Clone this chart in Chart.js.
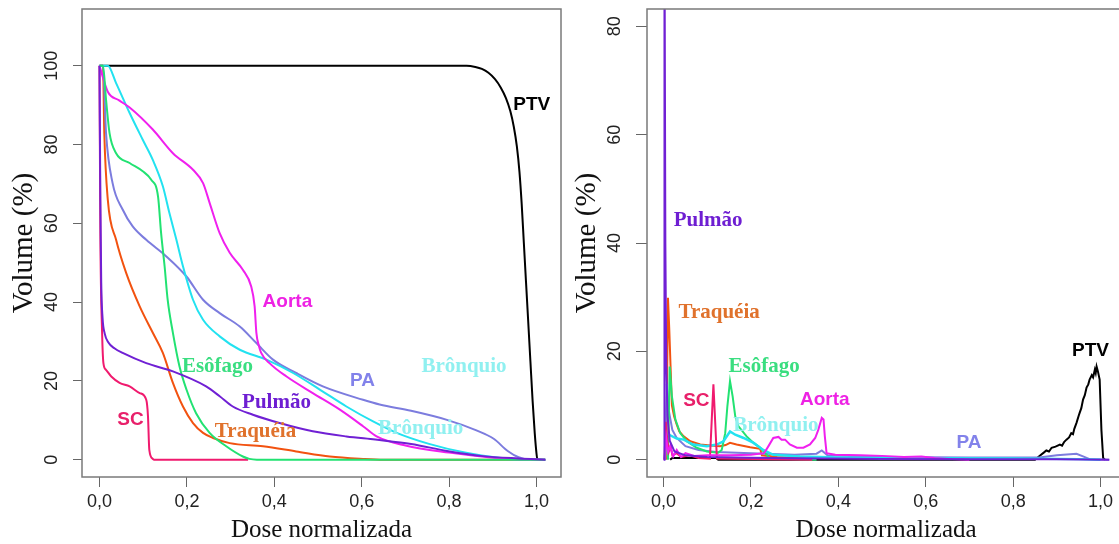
<!DOCTYPE html>
<html>
<head>
<meta charset="utf-8">
<script src="https://cdn.jsdelivr.net/npm/chart.js@4.4.1/dist/chart.umd.min.js"></script>
<style>
  html, body { margin: 0; padding: 0; background: #fff; width: 1119px; height: 544px; overflow: hidden; }
  .chart-wrap { position: absolute; top: 0; height: 544px; }
  #cumWrap { left: 0; width: 564px; }
  #diffWrap { left: 560px; width: 568px; }
</style>
</head>
<body>
<div class="chart-wrap" id="cumWrap"><canvas id="cumChart"></canvas></div>
<div class="chart-wrap" id="diffWrap"><canvas id="diffChart"></canvas></div>
<script>
// eixo x comum
const doseTicks = [0, 0.2, 0.4, 0.6, 0.8, 1.0];
const cumVolTicks = [0, 20, 40, 60, 80, 100];
const diffVolTicks = [0, 20, 40, 60, 80];

// HDV cumulativo: [dose normalizada, volume %]
const cumPTV = [[0, 100], [0.84, 100], [0.86, 99.7], [0.875, 99.2], [0.89, 98.2], [0.905, 96.6], [0.918, 94.5], [0.93, 91.8], [0.94, 88.5], [0.948, 84.5], [0.955, 79.5], [0.961, 73], [0.966, 65], [0.971, 55], [0.976, 45], [0.981, 35], [0.986, 25], [0.991, 15], [0.996, 6.6], [1.0, 1.5], [1.002, 0], [1.02, 0]];
const cumAorta = [[0, 100], [0.019, 93.4], [0.045, 91.2], [0.069, 89.4], [0.122, 83.8], [0.168, 77.8], [0.214, 73.6], [0.237, 70.2], [0.252, 65.2], [0.275, 57.5], [0.298, 52.5], [0.328, 48.2], [0.347, 44], [0.355, 38.9], [0.359, 32.2], [0.365, 28.8], [0.37, 27.1], [0.389, 24.5], [0.428, 21.1], [0.488, 16.9], [0.55, 12.7], [0.603, 8.5], [0.634, 5.9], [0.7, 3.6], [0.8, 1.8], [0.9, 0.5], [0.96, 0], [1.02, 0]];
const cumBronq = [[0, 100], [0.019, 100], [0.038, 95.6], [0.069, 88], [0.099, 81.2], [0.122, 76.1], [0.145, 69.4], [0.16, 62.6], [0.176, 55.8], [0.191, 49.1], [0.214, 40.6], [0.237, 35.5], [0.275, 31.3], [0.321, 27.9], [0.382, 25.4], [0.443, 22], [0.504, 17.8], [0.565, 13.5], [0.626, 9.7], [0.68, 6.8], [0.754, 4.0], [0.836, 1.8], [0.918, 0.4], [0.96, 0], [1.02, 0]];
const cumPA = [[0, 100], [0.008, 100], [0.015, 82.9], [0.03, 70.2], [0.053, 63.5], [0.076, 59.2], [0.107, 55.8], [0.153, 51.6], [0.199, 46.5], [0.237, 40.6], [0.275, 37.2], [0.321, 33.8], [0.359, 29.6], [0.397, 25.4], [0.45, 22], [0.511, 18.6], [0.603, 15.2], [0.641, 14], [0.713, 12.4], [0.795, 10.1], [0.861, 7.5], [0.902, 5.3], [0.934, 2.2], [0.959, 0.6], [0.984, 0], [1.02, 0]];
const cumPulm = [[0, 100], [0.002, 66], [0.004, 45], [0.007, 36], [0.012, 32], [0.02, 29.8], [0.035, 28.2], [0.053, 27.1], [0.107, 24.5], [0.168, 22.4], [0.244, 18.6], [0.275, 16.1], [0.305, 13.5], [0.351, 11.4], [0.412, 9.3], [0.488, 7.2], [0.565, 5.9], [0.631, 5.1], [0.713, 4.0], [0.795, 2.2], [0.877, 0.9], [0.959, 0.3], [1.02, 0]];
const cumEso = [[0, 100], [0.008, 100], [0.015, 91.4], [0.023, 82.9], [0.038, 77.8], [0.069, 75.3], [0.099, 73.2], [0.118, 71.1], [0.134, 66.8], [0.141, 57.5], [0.149, 49.1], [0.156, 40.6], [0.168, 32.2], [0.183, 23.7], [0.199, 17.8], [0.221, 11.8], [0.252, 6.8], [0.29, 3.4], [0.328, 0.8], [0.343, 0.2], [0.36, 0], [1.02, 0]];
const cumTraq = [[0, 100], [0.008, 100], [0.011, 82.9], [0.019, 66], [0.038, 55.8], [0.061, 47.4], [0.092, 38.9], [0.122, 32.2], [0.145, 27.1], [0.168, 19.5], [0.191, 13.5], [0.214, 9.3], [0.237, 6.8], [0.26, 5.5], [0.298, 4.2], [0.374, 3.4], [0.45, 2.1], [0.527, 0.8], [0.603, 0.2], [0.65, 0], [1.0, 0]];
const cumSC = [[0, 100], [0.002, 57.5], [0.006, 32.2], [0.009, 24.5], [0.015, 22.8], [0.027, 21.1], [0.046, 19.5], [0.069, 18.6], [0.092, 16.9], [0.107, 15.2], [0.111, 11], [0.114, 2.5], [0.122, 0.2], [0.125, 0], [0.34, 0]];

// HDV diferencial: [dose normalizada, volume %]
const diffPTV = [[0.015, 0], [0.02, 0.3], [0.12, 0.3], [0.125, 0], [0.85, 0], [0.861, 0.74], [0.87, 1.3], [0.876, 1.7], [0.882, 1.5], [0.888, 2.2], [0.897, 2.4], [0.907, 2.8], [0.912, 2.6], [0.917, 3.3], [0.922, 3.7], [0.928, 4.1], [0.933, 4.9], [0.937, 4.7], [0.94, 5.7], [0.945, 6.8], [0.95, 8.1], [0.952, 8.6], [0.956, 9.5], [0.96, 11.1], [0.964, 11.9], [0.968, 13.3], [0.972, 13.9], [0.975, 14.8], [0.98, 15.6], [0.983, 15.2], [0.987, 16.6], [0.989, 16.0], [0.991, 17.2], [0.994, 16.3], [0.998, 14.8], [1.002, 5.5], [1.006, 0.3], [1.01, 0]];
const diffAorta = [[0.002, 0], [0.006, 4], [0.01, 1.5], [0.015, 2.5], [0.022, 0.6], [0.03, 1.8], [0.04, 0.5], [0.05, 1.2], [0.07, 0.7], [0.1, 0.8], [0.15, 0.8], [0.2, 0.9], [0.23, 1.2], [0.24, 2.5], [0.251, 4.0], [0.263, 4.2], [0.27, 3.7], [0.278, 3.7], [0.289, 2.8], [0.305, 2.2], [0.32, 2.2], [0.335, 2.8], [0.347, 4.0], [0.354, 5.5], [0.362, 7.7], [0.366, 7.4], [0.369, 4.3], [0.373, 1.2], [0.393, 0.9], [0.45, 0.8], [0.5, 0.7], [0.55, 0.5], [0.59, 0.6], [0.62, 0.3], [0.66, 0.1], [0.7, 0]];
const diffBronq = [[0.003, 0], [0.006, 5], [0.015, 4.5], [0.03, 3.9], [0.046, 3.7], [0.068, 2.8], [0.099, 2.5], [0.122, 2.8], [0.137, 3.4], [0.152, 5.2], [0.164, 4.6], [0.183, 4.0], [0.206, 3.1], [0.228, 1.8], [0.251, 0.9], [0.312, 0.6], [0.4, 0.4], [0.6, 0.25], [0.8, 0.2], [0.95, 0.1], [1.0, 0]];
const diffPA = [[0.003, 0], [0.007, 14], [0.012, 9], [0.02, 5.5], [0.03, 4], [0.05, 2.5], [0.08, 1.8], [0.12, 1.4], [0.2, 1.2], [0.3, 0.9], [0.35, 1.1], [0.362, 1.7], [0.375, 0.8], [0.5, 0.5], [0.7, 0.4], [0.86, 0.4], [0.9, 0.8], [0.945, 1.1], [0.96, 0.6], [0.975, 0.1], [1.02, 0]];
const diffPulm = [[0, 0], [0.001, 0], [0.002, 100], [0.004, 40], [0.006, 18], [0.009, 8], [0.014, 3.5], [0.025, 1.5], [0.05, 0.8], [0.1, 0.5], [0.2, 0.35], [0.3, 0.25], [0.5, 0.12], [0.7, 0.1], [0.9, 0.08], [1.02, 0]];
const diffEso = [[0.01, 0], [0.014, 17.2], [0.019, 11.7], [0.027, 7.4], [0.038, 4.9], [0.053, 3.4], [0.076, 2.2], [0.099, 1.5], [0.125, 1.3], [0.133, 1.8], [0.141, 4.9], [0.146, 9.9], [0.152, 14.5], [0.158, 11.7], [0.164, 8], [0.171, 6.2], [0.19, 4.3], [0.206, 3.1], [0.221, 2.2], [0.232, 1.2], [0.245, 0.2], [0.35, 0]];
const diffTraq = [[0.006, 0], [0.01, 29.9], [0.013, 24], [0.016, 17], [0.019, 10], [0.024, 8], [0.03, 6.5], [0.036, 5.2], [0.046, 4.3], [0.061, 3.4], [0.084, 2.8], [0.107, 2.6], [0.129, 2.5], [0.142, 2.7], [0.152, 3.1], [0.167, 2.8], [0.198, 2.3], [0.221, 2.0], [0.225, 0.8], [0.26, 0.5], [0.33, 0.2], [0.34, 0]];
const diffSC = [[0.002, 0], [0.005, 7], [0.008, 4], [0.012, 1.5], [0.016, 2.5], [0.02, 0.8], [0.03, 1.2], [0.04, 0.5], [0.06, 0.8], [0.08, 0.3], [0.106, 0.2], [0.114, 13.9], [0.122, 0.2], [0.34, 0]];

// rótulos das estruturas (posição em coordenadas dos dados)
const cumLabels = [
  { text: 'PTV', x: 0.989, y: 90.1, color: '#000000', serif: false },
  { text: 'Aorta', x: 0.43, y: 40.1, color: '#ee22e4', serif: false },
  { text: 'PA', x: 0.602, y: 20.1, color: '#8282ea', serif: false },
  { text: 'Brônquio', x: 0.834, y: 23.6, color: '#90f0f0', serif: true },
  { text: 'Brônquio', x: 0.735, y: 7.9, color: '#90f0f0', serif: true },
  { text: 'Esôfago', x: 0.27, y: 23.6, color: '#3ade80', serif: true },
  { text: 'Pulmão', x: 0.405, y: 14.5, color: '#6e1ed2', serif: true },
  { text: 'Traquéia', x: 0.357, y: 7.1, color: '#e0722c', serif: true },
  { text: 'SC', x: 0.071, y: 10.2, color: '#e8206a', serif: false }
];
const diffLabels = [
  { text: 'Pulmão', x: 0.102, y: 44.2, color: '#6e1ed2', serif: true },
  { text: 'Traquéia', x: 0.127, y: 27.2, color: '#e0722c', serif: true },
  { text: 'Esôfago', x: 0.23, y: 17.2, color: '#3ade80', serif: true },
  { text: 'SC', x: 0.075, y: 10.9, color: '#e8206a', serif: false },
  { text: 'Aorta', x: 0.369, y: 11.1, color: '#ee22e4', serif: false },
  { text: 'Brônquio', x: 0.257, y: 6.3, color: '#90f0f0', serif: true },
  { text: 'PA', x: 0.699, y: 3.1, color: '#8282ea', serif: false },
  { text: 'PTV', x: 0.977, y: 20.1, color: '#000000', serif: false }
];

const colors = {
  PTV: '#000000', Aorta: '#f020ee', PA: '#7c7cde', Bronq: '#22e2f0',
  Pulm: '#7020d4', Eso: '#22e272', Traq: '#f25210', SC: '#f01a6e'
};

const SANS = '"Liberation Sans", Arial, sans-serif';
const SERIF = '"Liberation Serif", "Times New Roman", serif';

const toXY = (pairs) => pairs.map(([x, y]) => ({ x, y }));
const fmtDose = (v) => v.toFixed(1).replace('.', ',');

function line(label, pairs, color, smooth, width = 2) {
  return {
    label, data: toXY(pairs), borderColor: color, borderWidth: width,
    pointRadius: 0, fill: false,
    tension: 0, cubicInterpolationMode: smooth ? 'monotone' : 'default'
  };
}

// caixa em volta da área do gráfico, rótulos verticais do eixo y e nomes das estruturas
const plotDecor = {
  id: 'plotDecor',
  afterDatasetsDraw(chart, args, opts) {
    const { ctx, chartArea: a, scales } = chart;
    ctx.save();
    ctx.strokeStyle = '#7a7a7a';
    ctx.lineWidth = 1.5;
    ctx.strokeRect(a.left, a.top, a.right - a.left, a.bottom - a.top);

    ctx.fillStyle = '#222';
    ctx.font = `18px ${SANS}`;
    ctx.textAlign = 'center';
    ctx.textBaseline = 'middle';
    scales.y.ticks.forEach((t) => {
      const y = scales.y.getPixelForValue(t.value);
      ctx.save();
      ctx.translate(opts.yLabelX, y);
      ctx.rotate(-Math.PI / 2);
      ctx.fillText(String(t.value), 0, 0);
      ctx.restore();
    });

    (opts.labels || []).forEach((l) => {
      ctx.font = l.serif ? `bold 21px ${SERIF}` : `bold 19px ${SANS}`;
      ctx.fillStyle = l.color;
      ctx.fillText(l.text, scales.x.getPixelForValue(l.x), scales.y.getPixelForValue(l.y));
    });
    ctx.restore();
  }
};

function makeOptions({ xMin, xMax, yMin, yMax, yTicks, yWidth, yTickLen, yTitlePad, yLabelX, labels, padRight }) {
  return {
    responsive: true,
    maintainAspectRatio: false,
    animation: false,
    layout: { padding: { top: 9, right: padRight, left: 0, bottom: 0 } },
    plugins: { legend: { display: false }, tooltip: { enabled: false }, plotDecor: { yLabelX, labels } },
    scales: {
      x: {
        type: 'linear', min: xMin, max: xMax,
        afterBuildTicks: (s) => { s.ticks = doseTicks.map((v) => ({ value: v })); },
        afterFit: (s) => { s.height = 67; },
        ticks: { callback: (v) => fmtDose(v), autoSkip: false, maxRotation: 0, color: '#222', padding: 4, font: { family: SANS, size: 18 } },
        grid: { drawOnChartArea: false, drawTicks: true, tickLength: 10, color: '#666', lineWidth: 1 },
        border: { display: false },
        title: { display: true, text: 'Dose normalizada', color: '#111', font: { family: SERIF, size: 25, lineHeight: 1 }, padding: { top: 0, bottom: 1 } }
      },
      y: {
        type: 'linear', min: yMin, max: yMax,
        afterBuildTicks: (s) => { s.ticks = yTicks.map((v) => ({ value: v })); },
        afterFit: (s) => { s.width = yWidth; },
        ticks: { display: false },
        grid: { drawOnChartArea: false, drawTicks: true, tickLength: yTickLen, color: '#666', lineWidth: 1 },
        border: { display: false },
        title: { display: true, text: 'Volume (%)', color: '#111', font: { family: SERIF, size: 29, lineHeight: 1 }, padding: { top: yTitlePad, bottom: 0 } }
      }
    }
  };
}

// dataset 0 é desenhado por cima
new Chart(document.querySelector('#cumChart'), {
  type: 'line',
  data: {
    datasets: [
      line('Pulmão', cumPulm, colors.Pulm, true),
      line('Esôfago', cumEso, colors.Eso, true),
      line('Aorta', cumAorta, colors.Aorta, true),
      line('Brônquio', cumBronq, colors.Bronq, true),
      line('PA', cumPA, colors.PA, true),
      line('Traquéia', cumTraq, colors.Traq, true),
      line('SC', cumSC, colors.SC, true),
      line('PTV', cumPTV, colors.PTV, true)
    ]
  },
  options: makeOptions({ xMin: -0.04, xMax: 1.056, yMin: -4.4, yMax: 114.4, yTicks: cumVolTicks, yWidth: 82, yTickLen: 9, yTitlePad: 10, yLabelX: 52, labels: cumLabels, padRight: 3 }),
  plugins: [plotDecor]
});

new Chart(document.querySelector('#diffChart'), {
  type: 'line',
  data: {
    datasets: [
      line('Pulmão', diffPulm, colors.Pulm, false),
      line('Aorta', diffAorta, colors.Aorta, false),
      line('SC', diffSC, colors.SC, false),
      line('Brônquio', diffBronq, colors.Bronq, false, 2.5),
      line('Esôfago', diffEso, colors.Eso, false),
      line('PA', diffPA, colors.PA, false),
      line('Traquéia', diffTraq, colors.Traq, false),
      line('PTV', diffPTV, colors.PTV, false)
    ]
  },
  options: makeOptions({ xMin: -0.038, xMax: 1.056, yMin: -3.2, yMax: 83.2, yTicks: diffVolTicks, yWidth: 87, yTickLen: 11, yTitlePad: 13, yLabelX: 55, labels: diffLabels, padRight: 3 }),
  plugins: [plotDecor]
});
</script>
</body>
</html>
